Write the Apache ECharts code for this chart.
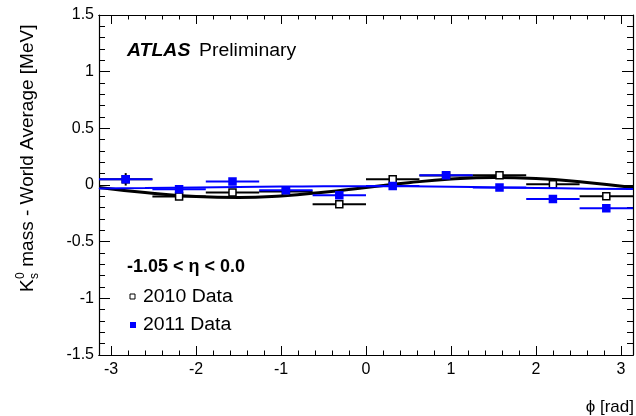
<!DOCTYPE html>
<html>
<head>
<meta charset="utf-8">
<script src="https://cdn.jsdelivr.net/npm/echarts@6/dist/echarts.min.js"></script>
<style>
html, body { margin: 0; padding: 0; background: #fff; }
#chart { width: 636px; height: 416px; }
</style>
</head>
<body>
<div id="chart"></div>
<script>
// phi bins (10 bins over -pi..pi)
var binEdges = [-3.1416, -2.5133, -1.885, -1.2566, -0.6283, 0, 0.6283, 1.2566, 1.885, 2.5133, 3.1416];
// K0s mass - world average [MeV]
var mass2010 = [0.050, -0.102, -0.067, -0.058, -0.170, 0.051, 0.084, 0.087, 0.007, -0.099];
var err2010 = [0.055, 0.025, 0.025, 0.025, 0.025, 0.025, 0.025, 0.025, 0.025, 0.025];
var mass2011 = [0.051, -0.037, 0.031, -0.046, -0.090, -0.008, 0.087, -0.022, -0.123, -0.206];
var err2011 = [0.02, 0.02, 0.02, 0.02, 0.02, 0.02, 0.02, 0.02, 0.02, 0.02];
var fitPhi = [-3.1416, -2.6, -2.0, -1.5, -1.0, -0.5, 0, 0.5, 1.0, 1.5, 2.0, 2.6, 3.1416];
var fit2010 = [-0.022, -0.067, -0.102, -0.110, -0.096, -0.064, -0.022, 0.020, 0.052, 0.066, 0.058, 0.023, -0.022];
var fit2011 = [-0.030, -0.027, -0.022, -0.018, -0.014, -0.011, -0.010, -0.012, -0.016, -0.021, -0.026, -0.032, -0.036];
// axis ticks
var xMajorTicks = [-3, -2, -1, 0, 1, 2, 3];
var xMinorTicks = [-2.8, -2.6, -2.4, -2.2, -1.8, -1.6, -1.4, -1.2, -0.8, -0.6, -0.4, -0.2,
  0.2, 0.4, 0.6, 0.8, 1.2, 1.4, 1.6, 1.8, 2.2, 2.4, 2.6, 2.8];

var FONT = '"Liberation Sans", Arial, Helvetica, sans-serif';
var BLUE = '#0000ff';

function binData(vals, errs) {
  return vals.map(function (v, i) {
    return [binEdges[i], binEdges[i + 1], v, errs[i]];
  });
}

// horizontal bin bar + vertical error + square marker
function pointRenderer(fill, stroke, size) {
  return function (params, api) {
    var y = api.value(2), e = api.value(3);
    var lo = api.coord([api.value(0), y]);
    var hi = api.coord([api.value(1), y]);
    var c = api.coord([(api.value(0) + api.value(1)) / 2, y]);
    var top = api.coord([0, y + e]);
    var bot = api.coord([0, y - e]);
    return {
      type: 'group',
      children: [
        { type: 'line', shape: { x1: lo[0], y1: lo[1], x2: hi[0], y2: hi[1] }, style: { stroke: stroke, lineWidth: 2 } },
        { type: 'line', shape: { x1: c[0], y1: top[1], x2: c[0], y2: bot[1] }, style: { stroke: stroke, lineWidth: 2 } },
        { type: 'rect', shape: { x: c[0] - size / 2, y: c[1] - size / 2, width: size, height: size },
          style: { fill: fill, stroke: stroke, lineWidth: 1.5 } }
      ]
    };
  };
}

function xAxisDef(pos, ticks, len, labels) {
  return {
    type: 'value', position: pos, min: -Math.PI, max: Math.PI,
    axisLine: { show: true, onZero: false, lineStyle: { color: '#000', width: 1.2 } },
    axisTick: { show: true, inside: true, length: len, customValues: ticks, lineStyle: { color: '#000', width: 1 } },
    axisLabel: labels ? { show: true, customValues: ticks, fontSize: 16, color: '#000', fontFamily: FONT, margin: 7 } : { show: false },
    splitLine: { show: false }
  };
}

function yAxisDef(pos, labels) {
  return {
    type: 'value', position: pos, min: -1.5, max: 1.5, interval: 0.5,
    axisLine: { show: true, onZero: false, lineStyle: { color: '#000', width: 1.2 } },
    axisTick: { show: true, inside: true, length: 11, lineStyle: { color: '#000', width: 1 } },
    minorTick: { show: true, splitNumber: 5, length: 6, lineStyle: { color: '#000', width: 1 } },
    axisLabel: labels ? { show: true, fontSize: 16, color: '#000', fontFamily: FONT, margin: 5 } : { show: false },
    splitLine: { show: false },
    minorSplitLine: { show: false }
  };
}

var chart = echarts.init(document.getElementById('chart'), null, { renderer: 'canvas' });

var option = {
  backgroundColor: '#fff',
  animation: false,
  grid: { left: 99, right: 3, top: 15, bottom: 61, outerBoundsMode: 'none' },
  xAxis: [
    xAxisDef('bottom', xMajorTicks, 9, true),
    xAxisDef('bottom', xMinorTicks, 4.5, false),
    xAxisDef('top', xMajorTicks, 9, false),
    xAxisDef('top', xMinorTicks, 4.5, false)
  ],
  yAxis: [yAxisDef('left', true), yAxisDef('right', false)],
  series: [
    {
      type: 'line', xAxisIndex: 0, yAxisIndex: 0, smooth: true, showSymbol: false,
      data: fitPhi.map(function (x, i) { return [x, fit2010[i]]; }),
      lineStyle: { color: '#000', width: 3 }, z: 2
    },
    {
      type: 'custom', xAxisIndex: 0, yAxisIndex: 0,
      renderItem: pointRenderer('#fff', '#000', 7),
      data: binData(mass2010, err2010),
      encode: { x: [0, 1], y: 2 }, z: 3
    },
    {
      type: 'line', xAxisIndex: 0, yAxisIndex: 0, smooth: true, showSymbol: false,
      data: fitPhi.map(function (x, i) { return [x, fit2011[i]]; }),
      lineStyle: { color: BLUE, width: 2 }, z: 4
    },
    {
      type: 'custom', xAxisIndex: 0, yAxisIndex: 0,
      renderItem: pointRenderer(BLUE, BLUE, 7),
      data: binData(mass2011, err2011),
      encode: { x: [0, 1], y: 2 }, z: 5
    }
  ],
  graphic: [
    // ATLAS label
    { type: 'text', x: 127, y: 51, scaleX: 1.08,
      style: { text: 'ATLAS', font: 'italic bold 18px ' + FONT, fill: '#000', textVerticalAlign: 'middle' } },
    { type: 'text', x: 199, y: 51, scaleX: 1.08,
      style: { text: 'Preliminary', font: '18px ' + FONT, fill: '#000', textVerticalAlign: 'middle' } },
    // eta range
    { type: 'text', x: 127, y: 267,
      style: { text: '-1.05 < η < 0.0', font: 'bold 18px ' + FONT, fill: '#000', textVerticalAlign: 'middle' } },
    // legend
    { type: 'rect', shape: { x: 130, y: 294, width: 5, height: 5 }, style: { fill: '#fff', stroke: '#000', lineWidth: 1 } },
    { type: 'text', x: 143, y: 297, scaleX: 1.08,
      style: { text: '2010 Data', font: '18px ' + FONT, fill: '#000', textVerticalAlign: 'middle' } },
    { type: 'rect', shape: { x: 130, y: 322, width: 6, height: 6 }, style: { fill: BLUE } },
    { type: 'text', x: 143, y: 325, scaleX: 1.08,
      style: { text: '2011 Data', font: '18px ' + FONT, fill: '#000', textVerticalAlign: 'middle' } },
    // x axis title
    { type: 'text', x: 634, y: 407,
      style: { text: 'ϕ [rad]', font: '17px ' + FONT, fill: '#000', textAlign: 'right', textVerticalAlign: 'middle' } },
    // y axis title, rotated
    {
      type: 'group', x: 28, y: 292, rotation: Math.PI / 2,
      children: [
        { type: 'text', x: 0, y: 0, style: { text: 'K', font: '19px ' + FONT, fill: '#000', textVerticalAlign: 'middle' } },
        { type: 'text', x: 13, y: -7, style: { text: '0', font: '12px ' + FONT, fill: '#000', textVerticalAlign: 'middle' } },
        { type: 'text', x: 13, y: 7, style: { text: 's', font: '12px ' + FONT, fill: '#000', textVerticalAlign: 'middle' } },
        { type: 'text', x: 20, y: 0, style: { text: ' mass - World Average [MeV]', font: '19px ' + FONT, fill: '#000', textVerticalAlign: 'middle' } }
      ]
    }
  ]
};

chart.setOption(option);
</script>
</body>
</html>
